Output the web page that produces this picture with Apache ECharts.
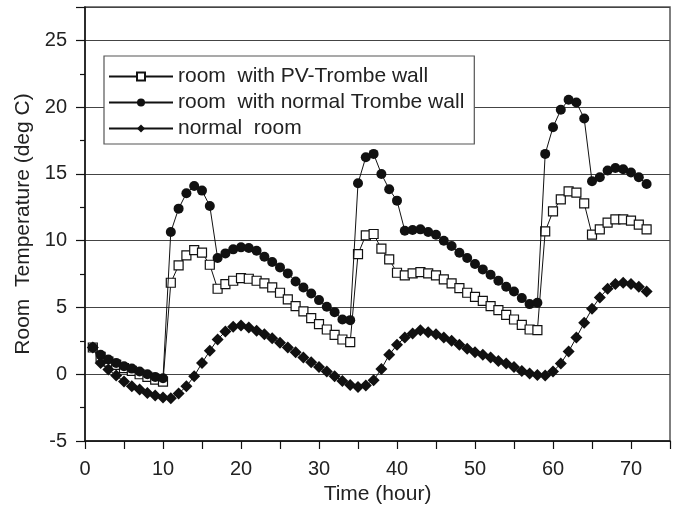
<!DOCTYPE html>
<html>
<head>
<meta charset="utf-8">
<script src="https://cdn.jsdelivr.net/npm/echarts@6/dist/echarts.min.js"></script>
<style>html,body{margin:0;padding:0;background:#fff;}#c{width:677px;height:510px;}</style>
</head>
<body>
<div id="c"></div>
<script>
const hours = [1,2,3,4,5,6,7,8,9,10,11,12,13,14,15,16,17,18,19,20,21,22,23,24,25,26,27,28,29,30,31,32,33,34,35,36,37,38,39,40,41,42,43,44,45,46,47,48,49,50,51,52,53,54,55,56,57,58,59,60,61,62,63,64,65,66,67,68,69,70,71,72];
const pvTrombe = [2.0,1.3,0.95,0.7,0.45,0.25,0.0,-0.2,-0.4,-0.55,6.85,8.15,8.9,9.3,9.1,8.2,6.4,6.75,7.0,7.2,7.15,7.0,6.8,6.5,6.1,5.6,5.1,4.7,4.2,3.75,3.35,2.95,2.6,2.4,9.0,10.4,10.5,9.4,8.6,7.6,7.4,7.55,7.65,7.55,7.4,7.1,6.8,6.45,6.1,5.8,5.5,5.1,4.8,4.45,4.1,3.7,3.35,3.3,10.7,12.2,13.1,13.7,13.6,12.8,10.45,10.85,11.35,11.6,11.6,11.5,11.2,10.85];
const normalTrombe = [2.0,1.45,1.1,0.85,0.6,0.42,0.2,0.0,-0.2,-0.3,10.65,12.4,13.55,14.1,13.75,12.6,8.7,9.05,9.35,9.5,9.45,9.25,8.8,8.4,8.0,7.55,6.95,6.5,6.05,5.55,5.05,4.65,4.1,4.05,14.3,16.25,16.5,15.0,13.85,13.0,10.75,10.8,10.85,10.65,10.45,10.0,9.6,9.1,8.7,8.25,7.85,7.45,7.0,6.55,6.2,5.7,5.25,5.35,16.5,18.5,19.8,20.55,20.35,19.15,14.45,14.75,15.25,15.45,15.35,15.1,14.75,14.25];
const normalRoom = [2.0,0.85,0.35,-0.1,-0.55,-0.9,-1.15,-1.4,-1.6,-1.75,-1.8,-1.45,-0.9,-0.15,0.85,1.75,2.6,3.2,3.55,3.65,3.5,3.25,3.0,2.7,2.35,2.0,1.65,1.25,0.9,0.55,0.2,-0.15,-0.5,-0.8,-0.95,-0.85,-0.45,0.4,1.45,2.2,2.75,3.05,3.3,3.15,3.0,2.75,2.5,2.2,1.9,1.65,1.45,1.25,1.0,0.8,0.55,0.25,0.05,-0.05,-0.1,0.2,0.8,1.7,2.75,3.85,4.9,5.75,6.4,6.75,6.85,6.75,6.55,6.2];
const seriesNames = ['room  with PV-Trombe wall','room  with normal Trombe wall','normal  room'];
const xTitle = 'Time (hour)';
const yTitle = 'Room  Temperature (deg C)';

const FONT = '"Liberation Sans", Arial, Helvetica, sans-serif';
const pair = arr => hours.map((h, i) => [h, arr[i]]);

const chart = echarts.init(document.getElementById('c'), null, {renderer: 'canvas'});
chart.setOption({
  animation: false,
  backgroundColor: '#fff',
  textStyle: {fontFamily: FONT, color: '#222'},
  grid: {left: 85, right: 7, top: 7, bottom: 69, show: true, borderColor: '#555', borderWidth: 1.5, backgroundColor: 'transparent'},
  legend: {
    orient: 'vertical', left: 104, top: 56,
    backgroundColor: '#fff', borderColor: '#555', borderWidth: 1.2,
    padding: [10, 10, 5, 4], itemGap: 5, itemWidth: 64, itemHeight: 10,
    textStyle: {fontFamily: FONT, fontSize: 21, color: '#222'},
    data: seriesNames
  },
  xAxis: {
    type: 'value', min: 0, max: 75, interval: 10,
    name: xTitle, nameLocation: 'middle', nameGap: 41,
    nameTextStyle: {fontFamily: FONT, fontSize: 21, color: '#222'},
    axisLine: {show: true, onZero: false, lineStyle: {color: '#111', width: 1.5}},
    axisTick: {show: true, inside: false, length: 8, lineStyle: {color: '#111', width: 1.2}},
    minorTick: {show: true, splitNumber: 2, length: 8, lineStyle: {color: '#111', width: 1.2}},
    axisLabel: {fontFamily: FONT, fontSize: 20, color: '#222', margin: 18, showMaxLabel: false},
    splitLine: {show: false}
  },
  yAxis: {
    type: 'value', min: -5, max: 27.5, interval: 5,
    name: yTitle, nameLocation: 'middle', nameGap: 46, nameRotate: 90,
    nameTextStyle: {fontFamily: FONT, fontSize: 21, color: '#222'},
    axisLine: {show: true, onZero: false, lineStyle: {color: '#111', width: 1.5}},
    axisTick: {show: true, inside: false, length: 9, lineStyle: {color: '#111', width: 1.2}},
    minorTick: {show: true, splitNumber: 2, length: 5, lineStyle: {color: '#111', width: 1.2}},
    axisLabel: {fontFamily: FONT, fontSize: 20, color: '#222', margin: 18, showMaxLabel: false},
    splitLine: {show: true, lineStyle: {color: '#444', width: 1.2}}
  },
  series: [
    {name: seriesNames[0], type: 'line', data: pair(pvTrombe), symbol: 'rect', symbolSize: 9,
     lineStyle: {color: '#111', width: 1}, itemStyle: {color: '#fff', borderColor: '#111', borderWidth: 1.2}, z: 3},
    {name: seriesNames[1], type: 'line', data: pair(normalTrombe), symbol: 'circle', symbolSize: 10,
     lineStyle: {color: '#111', width: 1}, itemStyle: {color: '#111', borderColor: '#111', borderWidth: 0}, z: 4},
    {name: seriesNames[2], type: 'line', data: pair(normalRoom), symbol: 'diamond', symbolSize: 12,
     lineStyle: {color: '#111', width: 1}, itemStyle: {color: '#111', borderColor: '#111', borderWidth: 0}, z: 5}
  ]
});
</script>
</body>
</html>
